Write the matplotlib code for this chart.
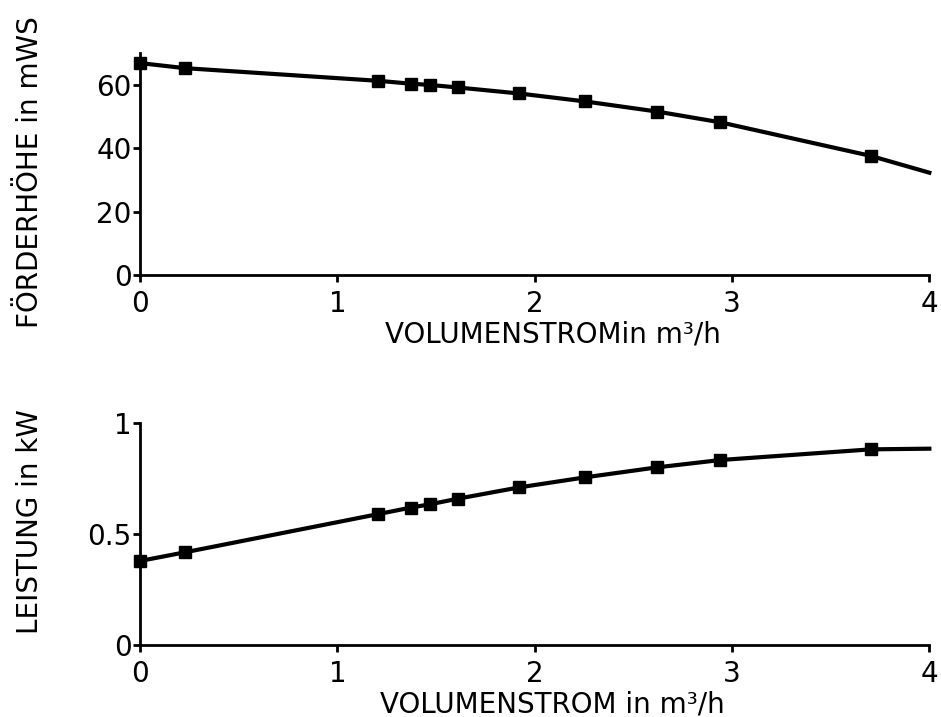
import matplotlib
matplotlib.use('Agg')
import matplotlib.pyplot as plt

plt.rcParams['font.family'] = ['DejaVu Sans']

# Messpunkte (Volumenstrom in m³/h)
flow = [0.0, 0.228, 1.208, 1.372, 1.47, 1.61, 1.922, 2.255, 2.62, 2.941, 3.703, 4.0]
head = [66.9, 65.3, 61.3, 60.4, 60.0, 59.2, 57.3, 54.8, 51.6, 48.2, 37.6, 32.3]
power = [0.378, 0.417, 0.589, 0.618, 0.633, 0.658, 0.709, 0.754, 0.799, 0.832, 0.880, 0.883]

x_ticks = [0, 1, 2, 3, 4]
head_ticks = [0, 20, 40, 60]
power_ticks = [0, 0.5, 1]
power_ticklabels = ['0', '0.5', '1']

FS = 20

fig = plt.figure(figsize=(9.41, 7.17), dpi=100)
ax1 = fig.add_axes([0.1488, 0.6165, 0.8388, 0.3092])
ax2 = fig.add_axes([0.1488, 0.1004, 0.8388, 0.3101])

marks = list(range(len(flow) - 1))  # no marker at the curve end


def style(ax):
    for side in ['top', 'right']:
        ax.spines[side].set_visible(False)
    for side in ['left', 'bottom']:
        ax.spines[side].set_linewidth(2)
    ax.tick_params(width=2, length=5, labelsize=FS, colors='black')
    ax.tick_params(axis='x', pad=6)
    ax.tick_params(axis='y', pad=1)
    ax.set_xlim(0, 4)
    ax.set_xticks(x_ticks)


ax1.plot(flow, head, color='black', lw=3, marker='s', ms=9, markevery=marks, clip_on=False)
style(ax1)
ax1.set_ylim(0, 70)
ax1.set_yticks(head_ticks)
ax1.set_xlabel('VOLUMENSTROMin m³/h', fontsize=FS)
ax1.xaxis.set_label_coords(0.523, -0.205)
ax1.set_ylabel('FÖRDERHÖHE in mWS', fontsize=FS)
ax1.yaxis.set_label_coords(-0.122, 0.465)

ax2.plot(flow, power, color='black', lw=3, marker='s', ms=9, markevery=marks, clip_on=False)
style(ax2)
ax2.set_ylim(0, 1)
ax2.set_yticks(power_ticks)
ax2.set_yticklabels(power_ticklabels)
ax2.set_xlabel('VOLUMENSTROM in m³/h', fontsize=FS)
ax2.xaxis.set_label_coords(0.523, -0.205)
ax2.set_ylabel('LEISTUNG in kW', fontsize=FS)
ax2.yaxis.set_label_coords(-0.122, 0.553)

fig.savefig('out.png', dpi=100, facecolor='white')
plt.close(fig)
